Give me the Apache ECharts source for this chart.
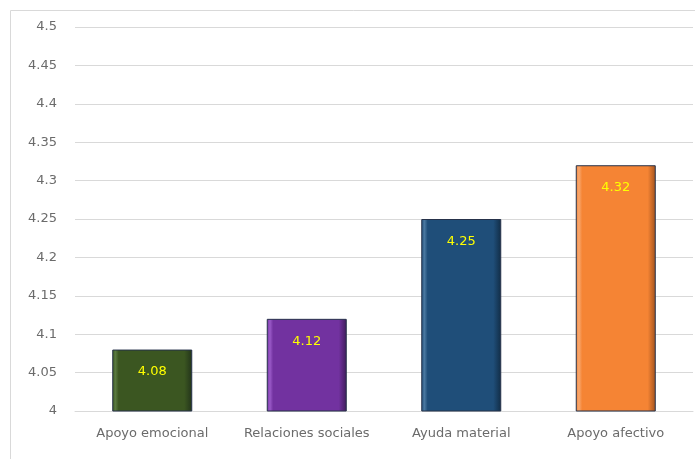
<!DOCTYPE html>
<html>
<head>
<meta charset="utf-8">
<script src="https://cdn.jsdelivr.net/npm/echarts@6/dist/echarts.min.js"></script>
<style>html,body{margin:0;padding:0;background:#fff;}#c{width:695px;height:459px;}</style>
</head>
<body>
<div id="c"></div>
<script>
const categories = ['Apoyo emocional', 'Relaciones sociales', 'Ayuda material', 'Apoyo afectivo'];
const values = [4.08, 4.12, 4.25, 4.32];
const barColors = ['#3b5621', '#7232a0', '#1f4e79', '#f58434'];
const barEdge = ['#22331a', '#3f1c5a', '#112c45', '#a0521e'];
const barLight = ['#5a7a40', '#9a5ac8', '#4a78a0', '#f8a870'];

const chart = echarts.init(document.getElementById('c'));
function grad(base, edge, light) {
  return new echarts.graphic.LinearGradient(0, 0, 1, 0, [
    {offset: 0, color: base}, {offset: 0.04, color: light}, {offset: 0.08, color: base},
    {offset: 0.9, color: base}, {offset: 1, color: edge}
  ]);
}
const font = 'DejaVu Sans, Verdana, sans-serif';
chart.setOption({
  animation: false,
  graphic: [{
    type: 'rect', shape: {x: 10.5, y: 10.5, width: 700, height: 470},
    style: {fill: 'none', stroke: '#d9d9d9', lineWidth: 1}, silent: true
  }],
  grid: {left: 75, right: 2, top: 27, bottom: 48},
  xAxis: {
    type: 'category', data: categories,
    axisLine: {lineStyle: {color: '#d9d9d9'}},
    axisTick: {show: false},
    axisLabel: {color: '#6b6b6b', fontSize: 13, fontFamily: font, margin: 16, interval: 0, hideOverlap: false}
  },
  yAxis: {
    type: 'value', min: 4, max: 4.5, interval: 0.05,
    axisLine: {show: false}, axisTick: {show: false},
    splitLine: {lineStyle: {color: '#d9d9d9'}},
    axisLabel: {color: '#6b6b6b', fontSize: 13, fontFamily: font, margin: 18,
      formatter: v => String(Math.round(v * 100) / 100)}
  },
  series: [{
    type: 'bar', barWidth: 80,
    data: values.map((v, i) => ({
      value: v,
      itemStyle: {color: grad(barColors[i], barEdge[i], barLight[i]), borderColor: '#26324a', borderWidth: 1}
    })),
    label: {
      show: true, position: 'insideTop', distance: 16, color: '#ffff00', fontSize: 13,
      fontFamily: font
    }
  }]
});
</script>
</body>
</html>
